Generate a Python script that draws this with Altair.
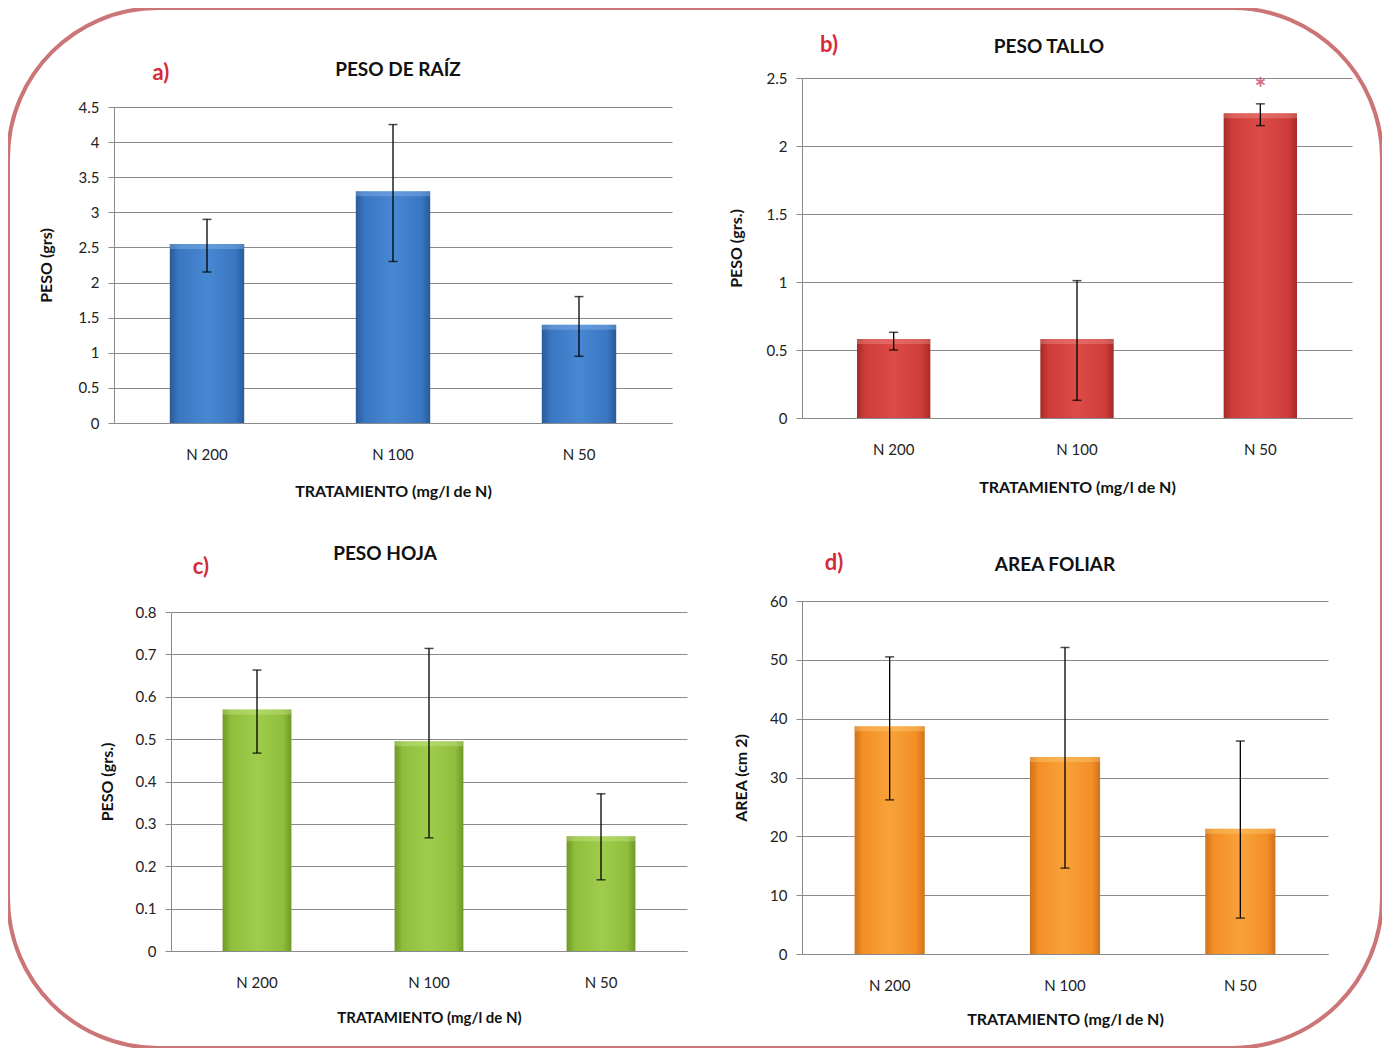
import altair as alt
import pandas as pd

# ---------------- data ----------------
cats = ["N 200", "N 100", "N 50"]

raiz_val = [2.55, 3.30, 1.40]
raiz_lo = [2.15, 2.30, 0.95]
raiz_hi = [2.90, 4.25, 1.80]
raiz_ticks = [0, 0.5, 1, 1.5, 2, 2.5, 3, 3.5, 4, 4.5]

tallo_val = [0.58, 0.58, 2.24]
tallo_lo = [0.50, 0.13, 2.15]
tallo_hi = [0.63, 1.01, 2.31]
tallo_sig = ["", "", "*"]
tallo_sig_y = [None, None, 2.46]
tallo_ticks = [0, 0.5, 1, 1.5, 2, 2.5]

hoja_val = [0.570, 0.495, 0.271]
hoja_lo = [0.467, 0.267, 0.168]
hoja_hi = [0.663, 0.714, 0.371]
hoja_ticks = [0, 0.1, 0.2, 0.3, 0.4, 0.5, 0.6, 0.7, 0.8]

area_val = [38.7, 33.5, 21.3]
area_lo = [26.2, 14.6, 6.1]
area_hi = [50.5, 52.1, 36.2]
area_ticks = [0, 10, 20, 30, 40, 50, 60]

panel_letters = ["a)", "b)", "c)", "d)"]
panel_titles = ["PESO DE RAÍZ", "PESO TALLO", "PESO HOJA", "AREA FOLIAR"]
y_titles = ["PESO (grs)", "PESO (grs.)", "PESO (grs.)", "AREA (cm 2)"]
x_title = "TRATAMIENTO (mg/l de N)"

# ---------------- style ----------------
W, H = 1374, 1040
FONT = "Lato"
GRID = "#8a8a8a"


def grad(edge, main, center):
    return alt.LinearGradient(
        gradient="linear", x1=0, x2=1, y1=0, y2=0,
        stops=[
            alt.GradientStop(color=edge, offset=0),
            alt.GradientStop(color=main, offset=0.12),
            alt.GradientStop(color=center, offset=0.5),
            alt.GradientStop(color=main, offset=0.88),
            alt.GradientStop(color=edge, offset=1),
        ],
    )


def panel(vals, los, his, ticks, ymax, xr, yr, ytitle, tpad, xtpad, xtsize,
          fill, bevel, sig=None, sig_y=None):
    df = pd.DataFrame({"cat": cats, "val": vals, "lo": los, "hi": his})
    xscale = alt.Scale(range=xr, paddingInner=0.6, paddingOuter=0.3)
    yscale = alt.Scale(domain=[0, ymax], range=yr, nice=False, zero=True)
    xaxis = alt.Axis(
        orient="bottom", offset=yr[0] - H, title=x_title, labelAngle=0,
        ticks=False, domain=True, domainColor=GRID, grid=False,
        labelFont=FONT, labelFontSize=15, labelColor="#222",
        labelPadding=24, titleFont=FONT, titleFontSize=xtsize, titleFontWeight="bold",
        titleColor="#111", titlePadding=xtpad,
    )
    yaxis = alt.Axis(
        orient="left", offset=-xr[0], values=ticks, format="~f", title=ytitle,
        grid=True, gridColor=GRID, gridWidth=1, domain=True, domainColor=GRID,
        ticks=True, tickSize=6, tickColor=GRID, labelPadding=9,
        labelFont=FONT, labelFontSize=15, labelColor="#222",
        titleFont=FONT, titleFontSize=16, titleFontWeight="bold",
        titleColor="#111", titlePadding=tpad,
    )
    X = alt.X("cat:N", sort=cats, scale=xscale, axis=xaxis)
    bars = alt.Chart(df).mark_bar(color=fill).encode(
        x=X, y=alt.Y("val:Q", scale=yscale, axis=yaxis)
    )
    top = alt.Chart(df).mark_bar(color=bevel, opacity=0.35, y2Offset=5).encode(
        x=X, y=alt.Y("val:Q", scale=yscale, axis=yaxis), y2="val:Q"
    )
    err = alt.Chart(df).mark_rule(color="black", strokeWidth=1.3).encode(
        x=X, y=alt.Y("lo:Q", scale=yscale, axis=yaxis), y2="hi:Q"
    )
    cap_lo = alt.Chart(df).mark_tick(color="black", size=9, thickness=1.5).encode(
        x=X, y=alt.Y("lo:Q", scale=yscale, axis=yaxis)
    )
    cap_hi = alt.Chart(df).mark_tick(color="black", size=9, thickness=1.5).encode(
        x=X, y=alt.Y("hi:Q", scale=yscale, axis=yaxis)
    )
    layers = [bars, top, err, cap_lo, cap_hi]
    if sig is not None:
        sdf = pd.DataFrame({"cat": cats, "s": sig, "sy": sig_y}).dropna()
        star = alt.Chart(sdf).mark_text(
            color="#d0456a", fontSize=28, font=FONT, fontWeight="bold",
            baseline="middle", dy=7, opacity=0.8,
        ).encode(x=X, y=alt.Y("sy:Q", scale=yscale, axis=yaxis), text="s:N")
        layers.append(star)
    return alt.layer(*layers)


pA = panel(raiz_val, raiz_lo, raiz_hi, raiz_ticks, 4.5, [106, 664], [415, 99],
           y_titles[0], 24, 21, 16, grad("#2a5a98", "#3a77c2", "#4887d2"), "#9cc4f2")
pB = panel(tallo_val, tallo_lo, tallo_hi, tallo_ticks, 2.5, [794, 1344], [410, 70],
           y_titles[1], 22, 22, 16, grad("#a52a28", "#cf3d3a", "#db4b47"), "#f4a09c",
           tallo_sig, tallo_sig_y)
pC = panel(hoja_val, hoja_lo, hoja_hi, hoja_ticks, 0.8, [163, 679], [943, 604],
           y_titles[2], 20, 20, 15, grad("#6f9828", "#8fbe3c", "#9fcc4c"), "#d4ee9c")
pD = panel(area_val, area_lo, area_hi, area_ticks, 60, [794, 1320], [946, 593],
           y_titles[3], 20, 18, 16, grad("#d2711a", "#f28f26", "#f9a23a"), "#ffd884")

# page x, chart y
letter_pos = [(161, 65), (829, 37), (201, 559), (834, 555)]
title_pos = [(398, 62), (1049, 39), (385, 546), (1055, 557)]

texts = []
for i in range(4):
    lx, ly = letter_pos[i]
    tx, ty = title_pos[i]
    texts.append(
        alt.Chart(alt.Data(values=[{"t": panel_letters[i]}])).mark_text(
            font=FONT, fontSize=22, fontWeight="bold", color="#d42a3a",
            align="center", baseline="middle",
        ).encode(text="t:N", x=alt.value(lx - 8), y=alt.value(ly))
    )
    texts.append(
        alt.Chart(alt.Data(values=[{"t": panel_titles[i]}])).mark_text(
            font=FONT, fontSize=19, fontWeight="bold", color="#111",
            align="center", baseline="middle",
        ).encode(text="t:N", x=alt.value(tx - 8), y=alt.value(ty))
    )

chart = (
    alt.layer(pA, pB, pC, pD, *texts)
    .resolve_scale(x="independent", y="independent")
    .properties(width=W, height=H, autosize=alt.AutoSizeParams(type="none"),
                padding=0, background="white")
    .configure_view(stroke="#cc7577", strokeWidth=4, cornerRadius=150, fill="white")
)

chart.save("out.html", embed_options={"renderer": "svg", "actions": False})
